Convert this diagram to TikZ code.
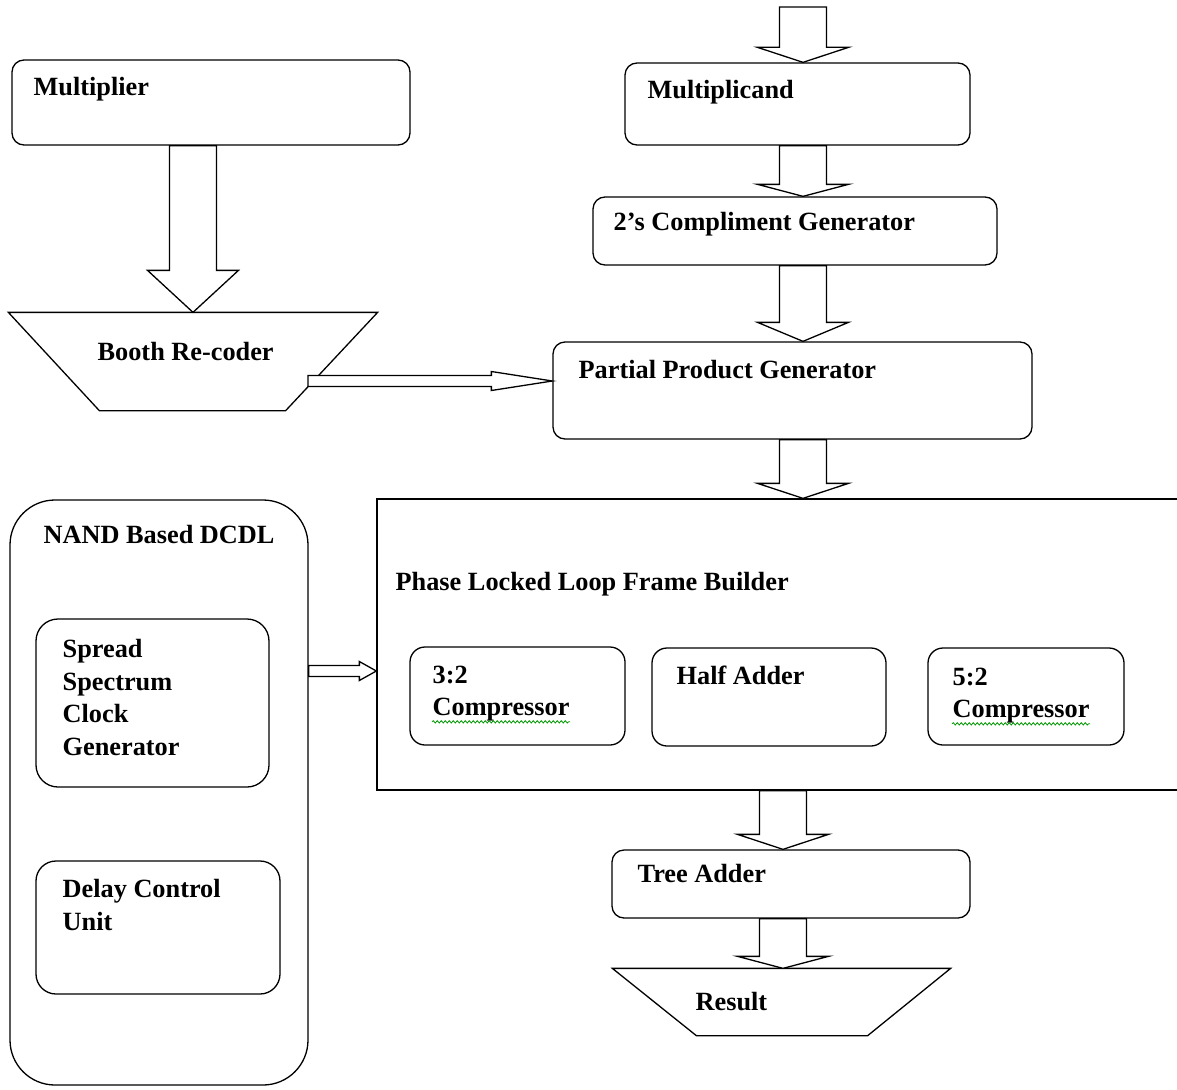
\documentclass[tikz,border=0pt]{standalone}
\usepackage{fontspec}
\setmainfont{Liberation Serif}
\usetikzlibrary{calc,decorations.pathmorphing}

\begin{document}
\begin{tikzpicture}[x=1pt, y=-1pt, line width=1.3pt,
    box/.style={draw, rectangle, rounded corners=12pt, fill=white, inner sep=0pt},
    frame/.style={draw, rectangle, fill=white, inner sep=0pt},
    trap/.style={rectangle, inner sep=0pt},
    lbl/.style={anchor=north west, inner sep=0pt, align=left, font=\bfseries\fontsize{26.3}{32.5}\selectfont},
    vblock/.style={draw, fill=white, to path={($(\tikztostart)+(-23.5,0)$) -- ($(\tikztotarget)+(-23.5,-#1)$) -- ($(\tikztotarget)+(-45.5,-#1)$) -- (\tikztotarget) -- ($(\tikztotarget)+(45.5,-#1)$) -- ($(\tikztotarget)+(23.5,-#1)$) -- ($(\tikztostart)+(23.5,0)$) -- cycle}},
    vblock/.default=15,
    hblock/.style={draw, fill=white, to path={($(\tikztostart)+(0,-5.5)$) -- ($(\tikztotarget)+(-#1,-5.5)$) -- ($(\tikztotarget)+(-#1,-9.5)$) -- (\tikztotarget) -- ($(\tikztotarget)+(-#1,9.5)$) -- ($(\tikztotarget)+(-#1,5.5)$) -- ($(\tikztostart)+(0,5.5)$) -- cycle}},
    squiggle/.style={draw=green!60!black, line width=0.8pt, decorate, decoration={snake, amplitude=1.2pt, segment length=4pt}}]

    \useasboundingbox (0,0) rectangle (1177,1089);
    \clip (0,0) rectangle (1177,1089);

    % left column
    \node[box, minimum width=398pt, minimum height=85pt] (mult) at (211,102.5) {};
    \node[trap, minimum width=368pt, minimum height=97pt] (booth) at (193,361.5) {};
    \draw[fill=white] (booth.north west) -- (booth.north east) -- ([xshift=-92pt]booth.south east)
        -- ([xshift=91pt]booth.south west) -- cycle;
    \node[box, rounded corners=45pt, minimum width=298pt, minimum height=585pt] (nand) at (159,792.5) {};
    \node[box, rounded corners=22pt, minimum width=233pt, minimum height=168pt] (spread) at (152.5,703) {};
    \node[box, rounded corners=20pt, minimum width=244pt, minimum height=133pt] (delay) at (158,927.5) {};

    % right column
    \node[box, minimum width=345pt, minimum height=82pt] (mcand) at (797.5,104) {};
    \node[box, minimum width=404pt, minimum height=68pt] (twos) at (795,231) {};
    \node[box, minimum width=479pt, minimum height=97pt] (ppg) at (792.5,390.5) {};
    \node[frame, minimum width=813pt, minimum height=291pt] (pll) at (783.5,644.5) {};
    \node[box, rounded corners=15pt, minimum width=215pt, minimum height=98pt] (c32) at (517.5,696) {};
    \node[box, rounded corners=15pt, minimum width=234pt, minimum height=98pt] (half) at (769,697) {};
    \node[box, rounded corners=15pt, minimum width=196pt, minimum height=97pt] (c52) at (1026,696.5) {};
    \node[box, minimum width=358pt, minimum height=68pt] (tree) at (791,884) {};
    \node[trap, minimum width=337pt, minimum height=66pt] (res) at (781.5,1002) {};
    \draw[fill=white] (res.north west) -- (res.north east) -- ([xshift=-83pt]res.south east)
        -- ([xshift=84pt]res.south west) -- cycle;

    % labels
    \node[lbl] (multt) at (33,77) {Multiplier};
    \node[lbl] (bootht) at (97,342) {Booth Re-coder};
    \node[lbl] (nandt) at (43,525) {NAND Based DCDL};
    \node[lbl] (spreadt) at (62,639) {Spread\\Spectrum\\Clock\\Generator};
    \node[lbl] (delayt) at (62,879) {Delay Control\\Unit};
    \node[lbl] (mcandt) at (647,80) {Multiplicand};
    \node[lbl] (twost) at (613,212) {2’s Compliment Generator};
    \node[lbl] (ppgt) at (578,360) {Partial Product Generator};
    \node[lbl] (pllt) at (395,572) {Phase Locked Loop Frame Builder};
    \node[lbl] (c32t) at (432,665) {3:2\\Compressor};
    \node[lbl] (halft) at (676,665) {Half Adder};
    \node[lbl] (c52t) at (952,667) {5:2\\Compressor};
    \node[lbl] (treet) at (637,864) {Tree Adder};
    \node[lbl] (rest) at (695,992) {Result};

    % spelling marks
    \draw[squiggle] (c32t.south west) -- (c32t.south east);
    \draw[squiggle] (c52t.south west) -- (c52t.south east);

    % block arrows
    \coordinate (in) at (803,7);
    \coordinate (colR) at (803,0);
    \coordinate (colT) at (783,0);
    \coordinate (colL) at (193,0);
    \coordinate (bout) at (308,381);
    \coordinate (nout) at (0,671);

    \draw[vblock] (in) to (mcand.north -| in);
    \draw[vblock=12] (mcand.south -| colR) to (twos.north -| colR);
    \draw[vblock=19] (twos.south -| colR) to (ppg.north -| colR);
    \draw[vblock] (ppg.south -| colR) to (pll.north -| colR);
    \draw[vblock] (pll.south -| colT) to (tree.north -| colT);
    \draw[vblock=12] (tree.south -| colT) to (res.north -| colT);
    \draw[vblock=42] (mult.south -| colL) to (booth.north -| colL);
    \draw[hblock=61] (bout) to (ppg.west |- bout);
    \draw[hblock=17] (nand.east |- nout) to (pll.west |- nout);
\end{tikzpicture}
\end{document}
